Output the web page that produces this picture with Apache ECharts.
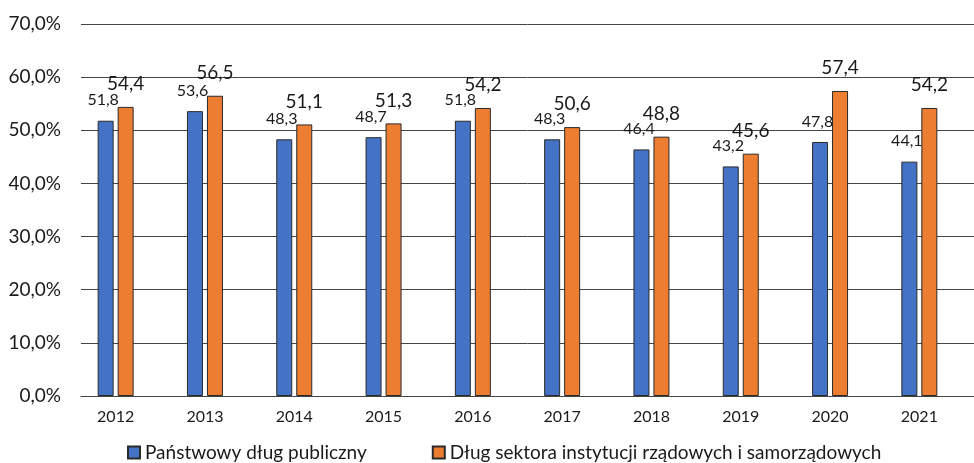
<!DOCTYPE html>
<html><head><meta charset="utf-8">
<script src="https://cdn.jsdelivr.net/npm/echarts@6/dist/echarts.min.js"></script>
<style>html,body{margin:0;padding:0;background:#fff}#c{width:974px;height:463px}</style>
</head><body><div id="c"></div>
<script>
var years = ['2012','2013','2014','2015','2016','2017','2018','2019','2020','2021'];
var publicDebt = [51.8, 53.6, 48.3, 48.7, 51.8, 48.3, 46.4, 43.2, 47.8, 44.1];
var govDebt = [54.4, 56.5, 51.1, 51.3, 54.2, 50.6, 48.8, 45.6, 57.4, 54.2];
var emptySlot = [null, null, null, null, null, null, null, null, null, null];
var seriesNames = ['Państwowy dług publiczny', 'Dług sektora instytucji rządowych i samorządowych'];
var yTicks = [0, 10, 20, 30, 40, 50, 60, 70];

var FONT = 'Lato';
var fmt = function (p) { return String(p.value.toFixed(1)).replace('.', ','); };
var chart = echarts.init(document.getElementById('c'));
chart.setOption({
  animation: false,
  textStyle: { fontFamily: FONT },
  grid: { left: 81, top: 24, width: 900, height: 372, containLabel: false },
  legend: {
    data: seriesNames,
    left: 127, top: 443, padding: 0,
    itemWidth: 12, itemHeight: 12, itemGap: 65,
    icon: 'rect',
    textStyle: { fontFamily: FONT, fontSize: 19, color: '#1a1a1a' }
  },
  xAxis: {
    type: 'category', data: years,
    axisLine: { lineStyle: { color: '#444', width: 1 } },
    axisTick: { show: false },
    axisLabel: { fontFamily: FONT, fontSize: 16, color: '#1a1a1a', margin: 13, padding: [0, 20, 0, 0] }
  },
  yAxis: {
    type: 'value', min: yTicks[0], max: yTicks[yTicks.length - 1], interval: 10,
    axisLine: { show: false }, axisTick: { show: false },
    splitLine: { lineStyle: { color: '#444', width: 1 } },
    axisLabel: { fontFamily: FONT, fontSize: 19, color: '#1a1a1a', margin: 20,
      formatter: function (v) { return v.toFixed(1).replace('.', ',') + '%'; } }
  },
  series: [
    { name: seriesNames[0], type: 'bar', data: publicDebt, barWidth: 16, barGap: '25%',
      itemStyle: { color: '#4472C4', borderColor: '#2a2a2a', borderWidth: 1 },
      label: { show: true, position: 'top', distance: 12.5, offset: [-2.5, 0], fontFamily: FONT, fontSize: 16, color: '#1a1a1a', formatter: fmt } },
    { name: seriesNames[1], type: 'bar', data: govDebt, barWidth: 16, barGap: '25%',
      itemStyle: { color: '#ED7D31', borderColor: '#2a2a2a', borderWidth: 1 },
      label: { show: true, position: 'top', distance: 13.5, fontFamily: FONT, fontSize: 19, color: '#1a1a1a', formatter: fmt } },
    { name: 'empty', type: 'bar', data: emptySlot, barWidth: 16, barGap: '25%' }
  ]
});
</script></body></html>
